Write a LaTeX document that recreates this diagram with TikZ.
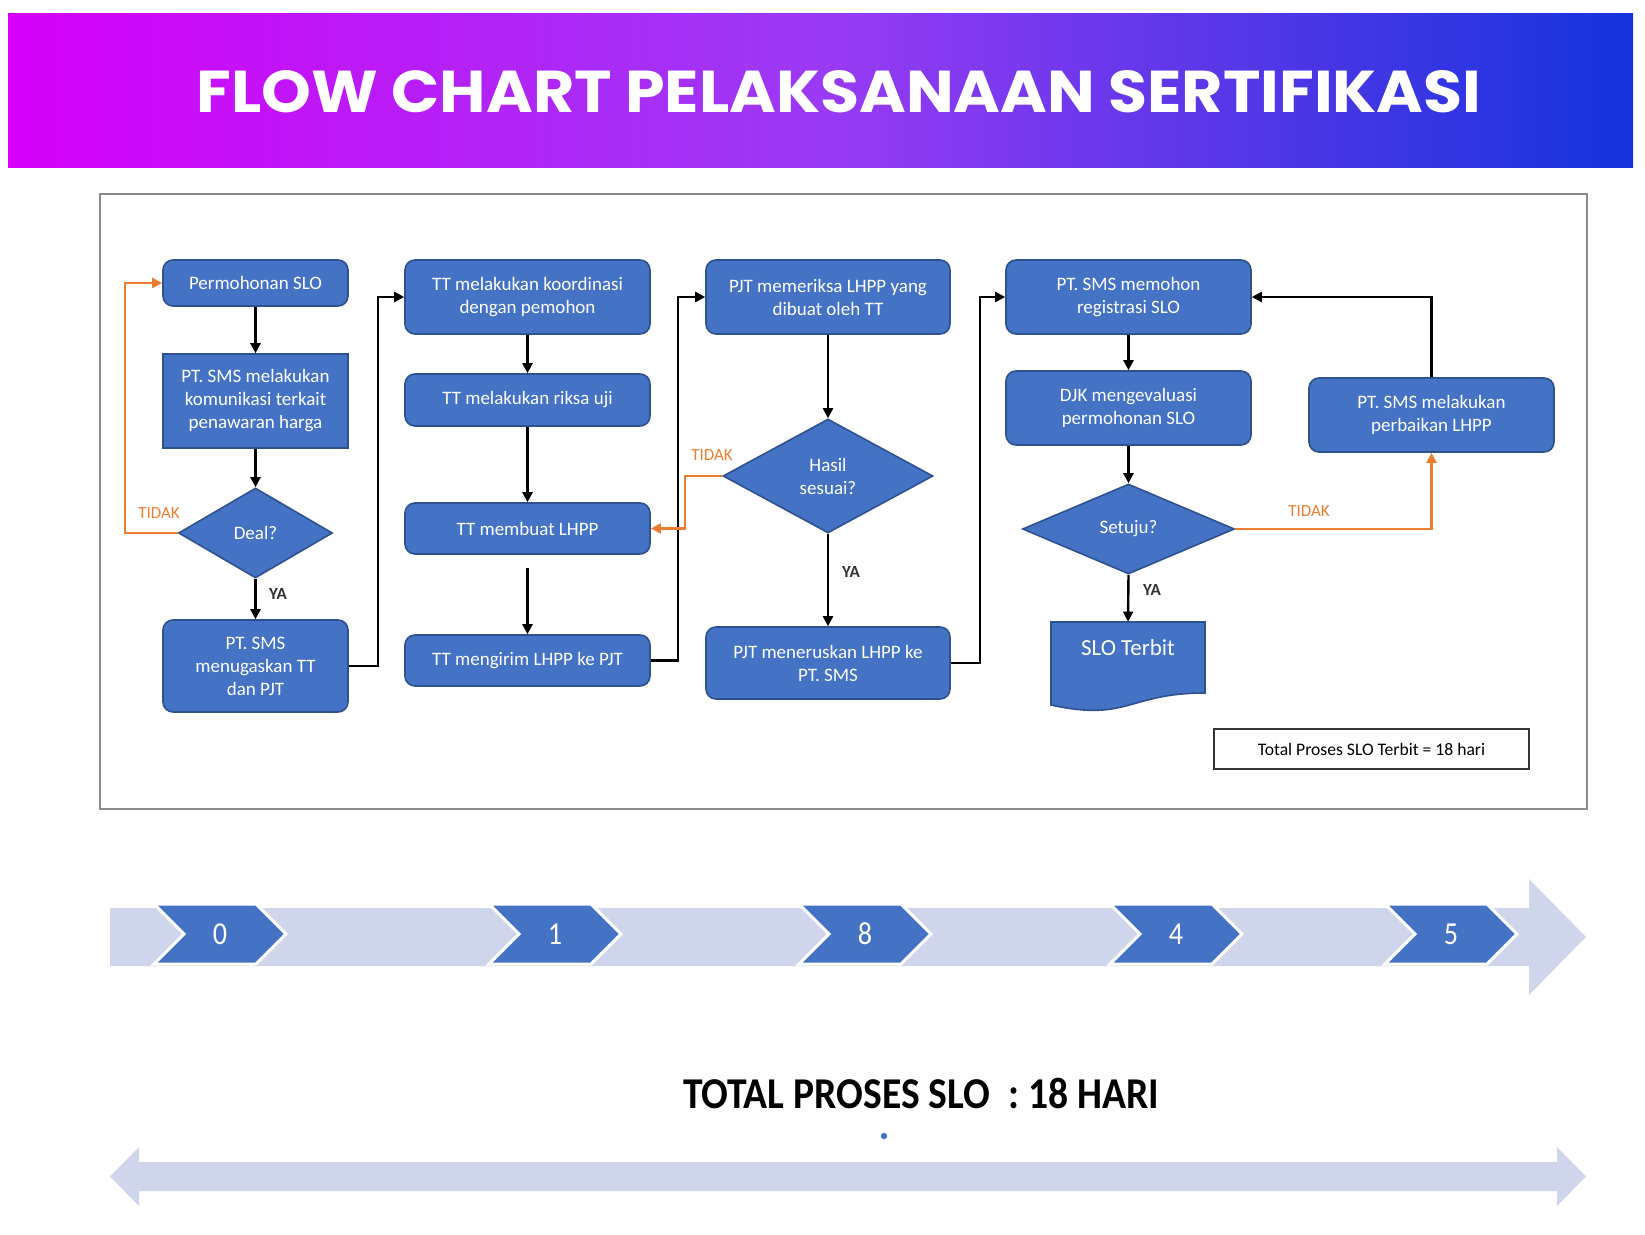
\documentclass[tikz,border=0pt]{standalone}
\usepackage{fontspec}
\setmainfont{Carlito}
\newfontfamily\titlefont{Poppins}[FakeStretch=1.075]
\newfontfamily\condfont{Carlito}[FakeStretch=0.88]
\newfontfamily\totfont{Carlito}[FakeStretch=0.9]
\usetikzlibrary{shapes.geometric,arrows.meta,calc}
\definecolor{boxblue}{HTML}{4472C4}
\definecolor{boxline}{HTML}{2F528F}
\definecolor{orangeC}{HTML}{ED7D31}
\definecolor{bandC}{HTML}{CFD5EA}
\definecolor{hdrL}{HTML}{D600FA}
\definecolor{hdrM}{HTML}{9A3AF4}
\definecolor{hdrR}{HTML}{1434DC}
\definecolor{frameC}{HTML}{8C8C8C}
\tikzset{
  box/.style={draw=boxline, fill=boxblue, rounded corners=5pt, text=white, align=center,
    font=\fontsize{9.5}{11.5}\selectfont, line width=0.8pt, inner sep=1pt},
  sqbox/.style={box, rounded corners=0pt},
  dia/.style={draw=boxline, fill=boxblue, shape=diamond, text=white, align=center,
    font=\fontsize{9.5}{11.5}\selectfont, inner sep=0pt, line width=0.8pt},
  arr/.style={-{Triangle[length=5pt,width=5pt]}, line width=1.2pt, draw=black},
  oarr/.style={-{Triangle[length=5pt,width=5pt]}, line width=1.2pt, draw=orangeC},
  olab/.style={text=orangeC, font=\fontsize{8.5}{10}\selectfont, inner sep=0pt},
  ylab/.style={text=black!80, font=\bfseries\fontsize{8.5}{10}\selectfont, inner sep=0pt},
  chev/.style={draw=white, line width=1.5pt, fill=boxblue, line join=miter},
  chevnum/.style={text=white, font=\condfont\fontsize{16}{18}\selectfont, inner sep=0pt}
}
\begin{document}
\begin{tikzpicture}[x=0.5pt,y=-0.5pt]
\useasboundingbox (0,0) rectangle (1645,1235);
\fill[white] (0,0) rectangle (1645,1235);
% header
\shade[left color=hdrL, right color=hdrR, middle color=hdrM] (8,14) rectangle (1633,168);
\node[font=\titlefont\bfseries\fontsize{29.5}{31}\selectfont, text=white] (title) at (839,92) {FLOW CHART PELAKSANAAN SERTIFIKASI};
% frame
\draw[frameC, line width=0.8pt] (100,194) rectangle (1587,809);

% column 1
\node[box, minimum width=92.5pt, minimum height=23pt] (n1) at (255.5,283) {Permohonan SLO};
\node[sqbox, minimum width=92.5pt, minimum height=47pt] (n2) at (255.5,401) {PT. SMS melakukan\\komunikasi terkait\\penawaran harga};
\node[dia, minimum width=77pt, minimum height=45pt] (deal) at (255.5,533) {Deal?};
\node[box, minimum width=92.5pt, minimum height=46pt] (n3) at (255.5,666) {PT. SMS\\menugaskan TT\\dan PJT};
% column 2
\node[box, minimum width=122.5pt, minimum height=37pt] (n4) at (527.5,297) {TT melakukan koordinasi\\dengan pemohon};
\node[box, minimum width=122.5pt, minimum height=26pt] (n5) at (527.5,400) {TT melakukan riksa uji};
\node[box, minimum width=122.5pt, minimum height=25.5pt] (n6) at (527.5,528.5) {TT membuat LHPP};
\node[box, minimum width=122.5pt, minimum height=25.5pt] (n7) at (527.5,660.5) {TT mengirim LHPP ke PJT};
% column 3
\node[box, minimum width=122pt, minimum height=37pt] (n8) at (828,297) {PJT memeriksa LHPP yang\\dibuat oleh TT};
\node[dia, minimum width=105pt, minimum height=57pt] (hasil) at (828,476) {Hasil\\sesuai?};
\node[box, minimum width=122pt, minimum height=36pt] (n9) at (828,663) {PJT meneruskan LHPP ke\\PT. SMS};
% column 4
\node[box, minimum width=122.5pt, minimum height=37pt] (n10) at (1128.5,297) {PT. SMS memohon\\registrasi SLO};
\node[box, minimum width=122.5pt, minimum height=37pt] (n11) at (1128.5,408) {DJK mengevaluasi\\permohonan SLO};
\node[dia, minimum width=106pt, minimum height=45pt] (setuju) at (1128.5,529) {Setuju?};
\node[box, minimum width=122.5pt, minimum height=37pt] (perb) at (1431.5,415) {PT. SMS melakukan\\perbaikan LHPP};
% document shape
\node[minimum width=77pt, minimum height=41.5pt, inner sep=0pt] (slo) at (1128,663.5) {};
\draw[draw=boxline, fill=boxblue, line width=0.8pt] (1051,622) -- (1205,622) -- (1205,693)
  .. controls (1128,693) and (1128,722) .. (1051,705) -- cycle;
\node[text=white, font=\fontsize{11.5}{13}\selectfont] (slotxt) at (1128,648) {SLO Terbit};
% total box
\node[draw=black!80, fill=white, line width=0.6pt, minimum width=157.5pt, minimum height=20pt,
  font=\fontsize{8.8}{10}\selectfont] (totbox) at (1371.5,749) {Total Proses SLO Terbit = 18 hari};

% connectors
\draw[arr] (n1) -- (n2);
\draw[arr] (n2) -- (deal);
\draw[arr] (deal) -- (n3);
\draw[oarr] (deal.west) -- ++(-53,0) |- (n1.west);
\draw[arr] (n3.east) -- ++(29,0) |- (n4.west);
\draw[arr] (n4) -- (n5);
\draw[arr] (n5) -- (n6);
\draw[arr] ($(n6.south)+(0,13)$) -- (n7.north);
\draw[arr] (n7.east) -- ++(27,0) |- (n8.west);
\draw[arr] (n8) -- (hasil);
\draw[oarr] (hasil.west) -- ++(-37,0) |- (n6.east);
\draw[arr] (hasil) -- (n9);
\draw[arr] (n9.east) -- ++(29,0) |- (n10.west);
\draw[arr] (n10) -- (n11);
\draw[arr] (n11) -- (setuju);
\draw[arr] (setuju.south) -- (slo.north);
\draw[oarr] (setuju.east) -| (perb.south);
\draw[arr] (perb.north) |- (n10.east);
% labels
\node[olab] (t1) at (159,513) {TIDAK};
\node[ylab] (y1) at (278,594) {YA};
\node[olab] (t2) at (712,455) {TIDAK};
\node[ylab] (y2) at (851,572) {YA};
\node[olab] (t3) at (1309,511) {TIDAK};
\node[ylab] (y3) at (1152,590) {YA};

% timeline band
\fill[bandC] (110,908) -- (1529,908) -- (1529,879) -- (1586,937) -- (1529,995) -- (1529,966) -- (110,966) -- cycle;
\foreach \x/\n/\lab in {154/0/c0, 489/1/c1, 799/8/c2, 1110/4/c3, 1385/5/c4} {
  \draw[chev] (\x,904) -- ++(102,0) -- ++(30,30) -- ++(-30,30) -- ++(-102,0) -- ++(30,-30) -- cycle;
  \node[chevnum] (\lab) at (\x+66,934) {\n};
}
% total text
\node[font=\totfont\bfseries\fontsize{22}{25}\selectfont, text=black] (tot) at (921,1093) {TOTAL PROSES SLO\ \ : 18 HARI};
\fill[boxblue] (884,1136) circle (1.6pt);
% double arrow
\fill[bandC] (110,1176.5) -- (139,1147) -- (139,1162) -- (1557,1162) -- (1557,1147) -- (1586,1176.5)
  -- (1557,1206) -- (1557,1191) -- (139,1191) -- (139,1206) -- cycle;
\end{tikzpicture}
\end{document}
